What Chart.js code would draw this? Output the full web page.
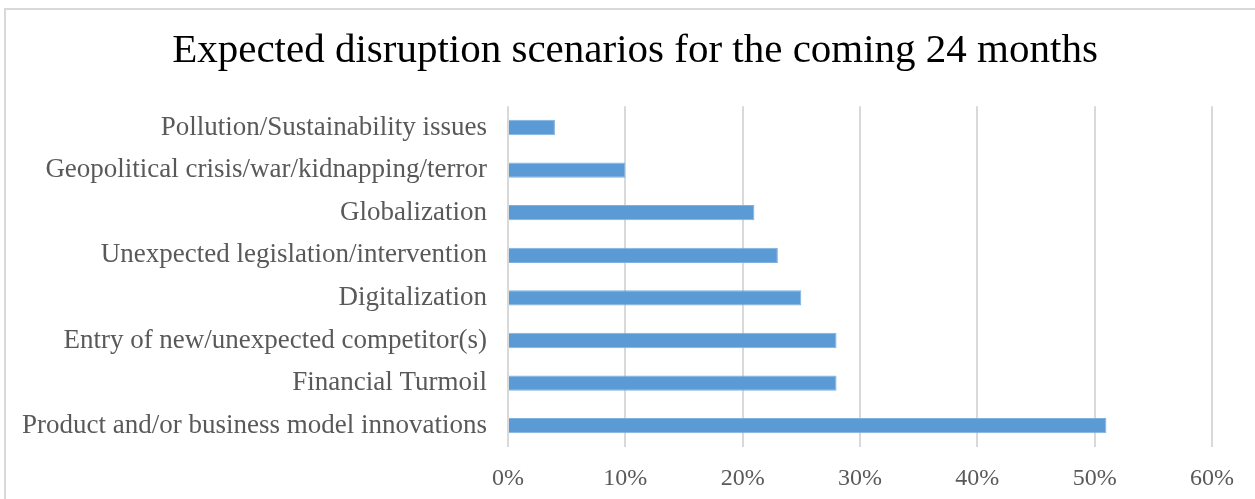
<!DOCTYPE html>
<html>
<head>
<meta charset="utf-8">
<script src="https://cdn.jsdelivr.net/npm/chart.js@4/dist/chart.umd.min.js"></script>
<style>
  html, body { margin: 0; padding: 0; background: #fff; overflow: hidden; }
  #frame { position: absolute; left: 4px; top: 8px; width: 1300px; height: 600px; border: 2px solid #d9d9d9; }
  #wrap { position: absolute; left: 0; top: 0; width: 1255px; height: 499px; }
</style>
</head>
<body>
<div id="frame"></div>
<div id="wrap"><canvas id="disruption-canvas" width="1255" height="499"></canvas></div>
<script>
let scenarioLabels = [
  'Pollution/Sustainability issues',
  'Geopolitical crisis/war/kidnapping/terror',
  'Globalization',
  'Unexpected legislation/intervention',
  'Digitalization',
  'Entry of new/unexpected competitor(s)',
  'Financial Turmoil',
  'Product and/or business model innovations'
];
let scenarioShares = [4, 10, 21, 23, 25, 28, 28, 51];
let axisMax = 60;
let axisStep = 10;

let serif = "'Liberation Serif', 'DejaVu Serif', serif";

/*shift the title box so the title sits in the middle of the frame*/
let titleShift = {
  id: 'titleShift',
  afterLayout: function(chart) {
    chart.titleBlock.left = 58;
  }
};

/*draw scenarios chart*/
let ctx = document.getElementById('disruption-canvas');
let scenariosChart = new Chart(ctx, {
  type: 'bar',
  data: {
    labels: scenarioLabels,
    datasets: [{
      label: 'Share',
      data: scenarioShares,
      backgroundColor: '#5b9bd5',
      borderColor: '#7fb0de',
      borderWidth: 1,
      categoryPercentage: 0.5,
      barPercentage: 0.72
    }]
  },
  plugins: [titleShift],
  options: {
    indexAxis: 'y',
    responsive: false,
    animation: false,
    layout: {
      padding: { left: 0, right: 43, top: 0, bottom: 0 }
    },
    plugins: {
      legend: { display: false },
      tooltip: { enabled: false },
      title: {
        display: true,
        text: 'Expected disruption scenarios for the coming 24 months',
        color: '#000',
        font: { family: serif, size: 41, weight: 'normal' },
        padding: { top: 27, bottom: 30 }
      }
    },
    scales: {
      x: {
        min: 0,
        max: axisMax,
        afterFit: function(scale) { scale.height = 52; },
        border: { display: false },
        grid: { color: '#d9d9d9', lineWidth: 2, drawTicks: false },
        ticks: {
          stepSize: axisStep,
          padding: 17,
          color: '#595959',
          font: { family: serif, size: 24 },
          callback: function(v) { return v + '%'; }
        }
      },
      y: {
        afterFit: function(scale) { scale.width = 508; },
        border: { display: false },
        grid: { display: false, drawTicks: false },
        ticks: {
          padding: 21,
          color: '#595959',
          font: { family: serif, size: 27 }
        }
      }
    }
  }
});
</script>
</body>
</html>
